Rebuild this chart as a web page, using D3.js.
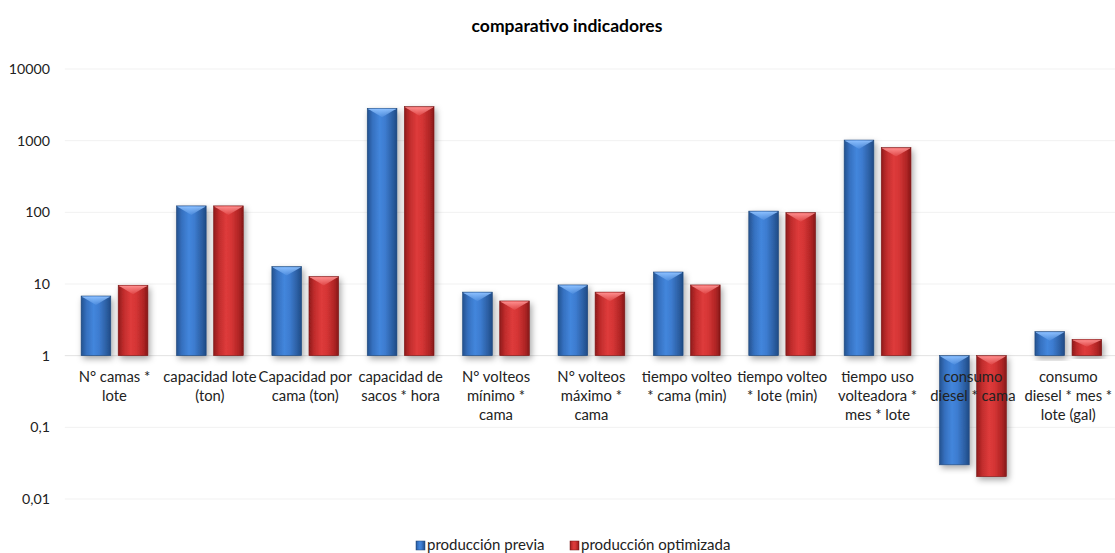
<!DOCTYPE html>
<html>
<head>
<meta charset="utf-8">
<script src="https://cdn.jsdelivr.net/npm/d3@7/dist/d3.min.js"></script>
<style>
  html, body { margin: 0; padding: 0; background: #fff; }
  svg { display: block; }
  text { font-family: Lato, "Open Sans", "Liberation Sans", sans-serif; fill: #222; }
</style>
</head>
<body>
<svg id="chart" width="1115" height="553"></svg>
<script>
// Indicator categories (each entry is the wrapped label, one string per line)
const categories = [
  ["N° camas *", "lote"],
  ["capacidad lote", "(ton)"],
  ["Capacidad por", "cama (ton)"],
  ["capacidad de", "sacos * hora"],
  ["N° volteos", "mínimo *", "cama"],
  ["N° volteos", "máximo *", "cama"],
  ["tiempo volteo", "* cama (min)"],
  ["tiempo volteo", "* lote (min)"],
  ["tiempo uso", "volteadora *", "mes * lote"],
  ["consumo", "diesel * cama"],
  ["consumo", "diesel * mes *", "lote (gal)"]
];
const seriesNames = ["producción previa", "producción optimizada"];
const previa     = [6.8, 123, 17.5, 2830, 7.7, 9.7, 14.7, 104, 1020, 0.03, 2.16];
const optimizada = [9.6, 123, 12.7, 2980, 5.8, 7.7, 9.7, 99, 800, 0.0205, 1.69];
const yTicks = [0.01, 0.1, 1, 10, 100, 1000, 10000];
const yTickLabels = ["0,01", "0,1", "1", "10", "100", "1000", "10000"];

const svg = d3.select("#chart");
const width = 1115;
const plot = { left: 66.8, right: 1116, top: 69, bottom: 499 };

const catKeys = categories.map((c, i) => i);
const x = d3.scaleBand().domain(catKeys).range([plot.left, plot.right])
  .paddingInner(0.3).paddingOuter(0.15);
const xs = d3.scaleBand().domain([0, 1]).range([0, x.bandwidth()]).paddingInner(0.2);
const y = d3.scaleLog().domain([0.01, 10000]).range([plot.bottom, plot.top]);

const defs = svg.append("defs");
const palettes = [
  { id: "g0", stops: ["#24528f", "#3570bf", "#4386dc", "#3d7cd0", "#2c5fa3", "#1f4a85"], hi: "#8cc0ff", edge: "#1d4679" },
  { id: "g1", stops: ["#8f1b1b", "#c02c2c", "#de3b3b", "#d53535", "#b02525", "#861818"], hi: "#ff8f8f", edge: "#7a1616" }
];
palettes.forEach(p => {
  const g = defs.append("linearGradient").attr("id", p.id).attr("x1", 0).attr("x2", 1).attr("y1", 0).attr("y2", 0);
  const offs = [0, 0.18, 0.42, 0.6, 0.85, 1];
  p.stops.forEach((c, i) => g.append("stop").attr("offset", offs[i]).attr("stop-color", c));
  const h = defs.append("linearGradient").attr("id", p.id + "h").attr("x1", 0).attr("x2", 0).attr("y1", 0).attr("y2", 1);
  h.append("stop").attr("offset", 0).attr("stop-color", p.hi).attr("stop-opacity", 0.95);
  h.append("stop").attr("offset", 1).attr("stop-color", p.hi).attr("stop-opacity", 0.15);
});
const shadow = defs.append("filter").attr("id", "shadow").attr("x", "-30%").attr("y", "-10%").attr("width", "170%").attr("height", "130%");
shadow.append("feDropShadow").attr("dx", 2).attr("dy", 3).attr("stdDeviation", 3)
  .attr("flood-color", "#000").attr("flood-opacity", 0.35);

// Title
svg.append("text").attr("x", 567).attr("y", 32).attr("text-anchor", "middle")
  .style("font-size", "17.5px").style("font-weight", "bold").style("fill", "#000")
  .text("comparativo indicadores");

// Gridlines and y tick labels
yTicks.forEach((t, i) => {
  svg.append("line")
    .attr("x1", plot.left - 2).attr("x2", width)
    .attr("y1", y(t)).attr("y2", y(t))
    .attr("stroke", t === 1 ? "#e2e2e2" : "#f1f1f1").attr("stroke-width", 1);
  svg.append("text").attr("x", 50).attr("y", y(t)).attr("dy", "0.35em")
    .attr("text-anchor", "end").style("font-size", "14.2px")
    .text(yTickLabels[i]);
});

// Bars (drawn from the value 1 baseline of the log axis)
const base = y(1);
[previa, optimizada].forEach((vals, s) => {
  const p = palettes[s];
  const g = svg.append("g");
  vals.forEach((v, i) => {
    const bx = x(i) + xs(s);
    const bw = xs.bandwidth();
    const top = Math.min(y(v), base);
    const h = Math.abs(y(v) - base);
    const bar = g.append("g");
    bar.append("rect").attr("x", bx).attr("y", top).attr("width", bw).attr("height", h)
      .attr("fill", `url(#${p.id})`).attr("stroke", p.edge).attr("stroke-width", 0.6)
      .attr("filter", "url(#shadow)");
    // bevelled highlight at the top edge of each bar
    const d = Math.min(9, h * 0.45);
    bar.append("path")
      .attr("d", `M${bx + 1},${top + 0.8} L${bx + bw - 1},${top + 0.8} L${bx + bw / 2},${top + d} Z`)
      .attr("fill", `url(#${p.id}h)`);
    bar.append("line").attr("x1", bx + 1).attr("x2", bx + bw - 1)
      .attr("y1", top + 0.8).attr("y2", top + 0.8)
      .attr("stroke", p.hi).attr("stroke-opacity", 0.6);
  });
});

// Category labels (wrapped, centred under each group)
categories.forEach((lines, i) => {
  const t = svg.append("text").attr("text-anchor", "middle").style("font-size", "14.8px");
  lines.forEach((ln, k) => {
    t.append("tspan").attr("x", x(i) + x.bandwidth() / 2).attr("y", 382 + k * 19.2).text(ln);
  });
});

// Legend
const legend = svg.append("g").attr("transform", "translate(416,550)");
const legendX = [0, 154];
seriesNames.forEach((n, s) => {
  const lg = legend.append("g").attr("transform", `translate(${legendX[s]},0)`);
  lg.append("rect").attr("x", 0).attr("y", -9).attr("width", 9).attr("height", 9)
    .attr("fill", `url(#${palettes[s].id})`).attr("stroke", palettes[s].edge).attr("stroke-width", 0.5);
  lg.append("text").attr("x", 11).attr("y", 0).style("font-size", "15px").text(n);
});
</script>
</body>
</html>
